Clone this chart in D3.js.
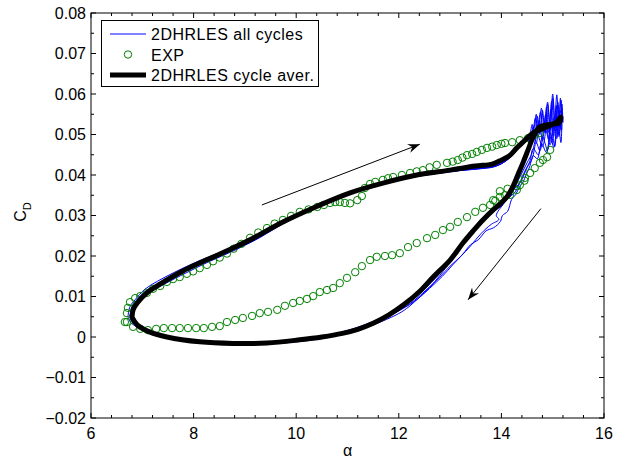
<!DOCTYPE html>
<html><head><meta charset="utf-8">
<script src="https://cdn.jsdelivr.net/npm/d3@7/dist/d3.min.js"></script>
<style>body{margin:0;background:#fff}svg{display:block}text{font-family:"Liberation Sans",Arial,sans-serif}</style>
</head><body>
<svg id="c" width="623" height="460"></svg>
<script>
const xTicks=[6,8,10,12,14,16];
const yTicks=[0.08,0.07,0.06,0.05,0.04,0.03,0.02,0.01,0,-0.01,-0.02];
const legendLabels=["2DHRLES all cycles","EXP","2DHRLES cycle aver."];
const cycleAver=[[6.80,0.0049],[6.82,0.0067],[6.90,0.0084],[7.09,0.0109],[7.29,0.0126],[7.48,0.0141],[7.79,0.0163],[8.12,0.0183],[8.46,0.0202],[8.77,0.0220],[9.10,0.0240],[9.74,0.0284],[10.41,0.0323],[11.05,0.0356],[11.69,0.0380],[12.35,0.0400],[13.0,0.0412],[13.49,0.0422],[13.82,0.0427],[13.97,0.0435],[14.17,0.0449],[14.30,0.0467],[14.42,0.0481],[14.62,0.0504],[14.89,0.0519],[15.08,0.0531],[15.16,0.0543],[15.12,0.0528],[15.0,0.0526],[14.75,0.0519],[14.62,0.0494],[14.52,0.0462],[14.42,0.0430],[14.32,0.0400],[14.23,0.0373],[14.11,0.0346],[13.97,0.0328],[13.84,0.0314],[13.64,0.0289],[13.45,0.0262],[13.25,0.0232],[13.0,0.0190],[12.67,0.0148],[12.41,0.0113],[12.1,0.0080],[11.8,0.0054],[11.5,0.0034],[11.2,0.0019],[10.9,0.0009],[10.5,0.0000],[10.07,-0.0007],[9.43,-0.0015],[8.77,-0.0016],[8.12,-0.0012],[7.48,0.0000],[7.15,0.0012],[6.90,0.0030],[6.80,0.0049]];
const cycle1=[[6.72,0.0050],[6.76,0.0075],[6.86,0.0092],[7.05,0.0118],[7.3,0.0138],[7.6,0.0158],[8.0,0.0182],[8.5,0.0208],[9.0,0.0236],[9.5,0.0265],[10.0,0.0298],[10.5,0.0327],[11.0,0.0353],[11.5,0.0374],[12.0,0.0390],[12.5,0.0402],[13.0,0.0410],[13.5,0.0417],[13.8,0.0420],[14.0,0.0428],[14.2,0.0446],[14.4,0.0478],[14.55,0.0500],[14.6,0.0525],[14.65,0.0490],[14.7,0.0545],[14.75,0.0500],[14.8,0.0560],[14.85,0.0505],[14.9,0.0575],[14.95,0.0510],[15.0,0.0590],[15.05,0.0515],[15.1,0.0580],[15.15,0.0520],[15.18,0.0565],[15.12,0.0495],[15.05,0.0545],[14.98,0.0480],[14.9,0.0530],[14.8,0.0470],[14.7,0.0500],[14.6,0.0455],[14.5,0.0430],[14.4,0.0405],[14.3,0.0380],[14.2,0.0355],[14.1,0.0340],[13.95,0.0320],[13.8,0.0305],[13.6,0.0282],[13.4,0.0252],[13.2,0.0218],[13.0,0.0185],[12.8,0.0152],[12.6,0.0122],[12.4,0.0098],[12.2,0.0075],[12.0,0.0058],[11.5,0.0030],[11.0,0.0010],[10.5,-0.0004],[10.0,-0.0012],[9.5,-0.0017],[9.0,-0.0018],[8.5,-0.0016],[8.0,-0.0010],[7.6,-0.0001],[7.2,0.0010],[6.95,0.0022],[6.78,0.0035],[6.72,0.0050]];
const cycle2=[[6.78,0.0048],[6.80,0.0070],[6.9,0.0088],[7.1,0.0112],[7.4,0.0134],[7.8,0.0160],[8.2,0.0185],[8.7,0.0212],[9.2,0.0240],[9.7,0.0280],[10.2,0.0310],[10.7,0.0336],[11.2,0.0360],[11.7,0.0378],[12.2,0.0393],[12.7,0.0403],[13.2,0.0411],[13.6,0.0416],[13.9,0.0422],[14.1,0.0436],[14.3,0.0462],[14.45,0.0488],[14.6,0.0505],[14.66,0.0540],[14.7,0.0495],[14.76,0.0555],[14.82,0.0500],[14.88,0.0568],[14.92,0.0505],[14.98,0.0582],[15.03,0.0512],[15.08,0.0598],[15.12,0.0520],[15.16,0.0585],[15.2,0.0530],[15.14,0.0560],[15.08,0.0490],[15.02,0.0540],[14.95,0.0475],[14.85,0.0515],[14.75,0.0460],[14.68,0.0480],[14.6,0.0440],[14.5,0.0418],[14.42,0.0395],[14.35,0.0378],[14.25,0.0355],[14.15,0.0345],[14.05,0.0330],[13.9,0.0300],[13.95,0.0290],[13.8,0.0278],[13.6,0.0255],[13.4,0.0225],[13.2,0.0198],[13.0,0.0175],[12.8,0.0148],[12.55,0.0118],[12.3,0.0090],[12.0,0.0065],[11.6,0.0040],[11.2,0.0020],[10.7,0.0004],[10.2,-0.0008],[9.6,-0.0014],[9.0,-0.0016],[8.4,-0.0014],[7.9,-0.0008],[7.4,0.0004],[7.1,0.0014],[6.9,0.0028],[6.78,0.0048]];
const cycle3=[[6.82,0.0050],[6.85,0.0068],[6.95,0.0086],[7.15,0.0110],[7.45,0.0132],[7.85,0.0158],[8.3,0.0186],[8.8,0.0214],[9.3,0.0246],[9.8,0.0284],[10.3,0.0316],[10.8,0.0342],[11.3,0.0364],[11.8,0.0381],[12.3,0.0395],[12.8,0.0405],[13.3,0.0413],[13.7,0.0419],[13.95,0.0428],[14.15,0.0445],[14.35,0.0472],[14.5,0.0495],[14.56,0.0470],[14.62,0.0520],[14.68,0.0478],[14.74,0.0535],[14.8,0.0485],[14.86,0.0548],[14.92,0.0490],[14.97,0.0562],[15.02,0.0495],[15.07,0.0572],[15.11,0.0500],[15.15,0.0590],[15.17,0.0510],[15.1,0.0545],[15.04,0.0470],[14.97,0.0520],[14.9,0.0462],[14.8,0.0495],[14.72,0.0450],[14.62,0.0465],[14.55,0.0432],[14.45,0.0408],[14.38,0.0385],[14.3,0.0372],[14.22,0.0360],[14.18,0.0348],[14.05,0.0338],[14.0,0.0322],[13.85,0.0318],[13.75,0.0300],[13.62,0.0292],[13.5,0.0270],[13.35,0.0248],[13.15,0.0215],[12.95,0.0182],[12.75,0.0150],[12.5,0.0118],[12.25,0.0090],[11.95,0.0065],[11.5,0.0038],[11.0,0.0016],[10.5,0.0001],[10.0,-0.0009],[9.4,-0.0015],[8.8,-0.0016],[8.2,-0.0013],[7.7,-0.0005],[7.3,0.0007],[7.0,0.0020],[6.86,0.0034],[6.82,0.0050]];
const cycle4=[[6.76,0.0049],[6.79,0.0072],[6.88,0.0090],[7.08,0.0115],[7.35,0.0135],[7.7,0.0158],[8.1,0.0183],[8.6,0.0210],[9.1,0.0240],[9.6,0.0274],[10.1,0.0305],[10.6,0.0332],[11.1,0.0357],[11.6,0.0376],[12.1,0.0391],[12.6,0.0402],[13.1,0.0410],[13.55,0.0415],[13.85,0.0420],[14.05,0.0432],[14.25,0.0455],[14.45,0.0485],[14.62,0.0510],[14.68,0.0550],[14.72,0.0505],[14.78,0.0565],[14.84,0.0510],[14.9,0.0580],[14.95,0.0520],[15.0,0.0600],[15.05,0.0525],[15.1,0.0570],[15.14,0.0515],[15.18,0.0575],[15.16,0.0480],[15.1,0.0535],[15.02,0.0468],[14.95,0.0505],[14.88,0.0455],[14.78,0.0478],[14.7,0.0440],[14.62,0.0448],[14.55,0.0420],[14.48,0.0400],[14.42,0.0382],[14.35,0.0370],[14.28,0.0352],[14.2,0.0340],[14.12,0.0310],[14.02,0.0300],[13.98,0.0285],[13.85,0.0270],[13.7,0.0262],[13.55,0.0240],[13.4,0.0228],[13.25,0.0205],[13.05,0.0178],[12.85,0.0150],[12.6,0.0120],[12.35,0.0092],[12.05,0.0068],[11.7,0.0046],[11.3,0.0025],[10.8,0.0007],[10.3,-0.0006],[9.7,-0.0014],[9.1,-0.0017],[8.5,-0.0015],[8.0,-0.0009],[7.5,0.0002],[7.15,0.0013],[6.92,0.0026],[6.8,0.0037],[6.76,0.0049]];
const expUp=[[6.66,0.0037],[6.70,0.0059],[6.72,0.0072],[6.76,0.0086],[6.86,0.0096],[6.96,0.0101],[7.09,0.0109],[7.21,0.0119],[7.35,0.0126],[7.48,0.0136],[7.60,0.0143],[7.73,0.0148],[7.87,0.0156],[7.99,0.0162],[8.12,0.0170],[8.26,0.0178],[8.38,0.0187],[8.51,0.0196],[8.65,0.0206],[8.78,0.0218],[8.93,0.0230],[9.10,0.0245],[9.26,0.0258],[9.43,0.0269],[9.58,0.0280],[9.74,0.0289],[9.90,0.0299],[10.07,0.0309],[10.24,0.0315],[10.41,0.0321],[10.54,0.0326],[10.66,0.0331],[10.76,0.0333],[10.85,0.0333],[10.95,0.0331],[11.05,0.0330],[11.19,0.0338],[11.28,0.0348],[11.34,0.0368],[11.44,0.0378],[11.54,0.0383],[11.69,0.0388],[11.79,0.0392],[11.89,0.0395],[12.06,0.0400],[12.22,0.0405],[12.35,0.0409],[12.47,0.0412],[12.60,0.0419],[12.74,0.0425],[12.94,0.0430],[13.05,0.0433],[13.15,0.0437],[13.24,0.0443],[13.33,0.0449],[13.43,0.0452],[13.52,0.0457],[13.62,0.0462],[13.72,0.0467],[13.82,0.0470],[13.91,0.0474],[14.00,0.0477],[14.07,0.0479],[14.21,0.0481],[14.36,0.0486],[14.52,0.0491],[14.65,0.0499],[14.75,0.0504]];
const expDown=[[14.95,0.0462],[14.89,0.0444],[14.81,0.0437],[14.75,0.0430],[14.65,0.0417],[14.56,0.0405],[14.46,0.0393],[14.36,0.0375],[14.30,0.0363],[14.17,0.0351],[14.07,0.0350],[13.97,0.0346],[13.88,0.0336],[13.78,0.0326],[13.64,0.0319],[13.49,0.0309],[13.33,0.0296],[13.15,0.0284],[13.0,0.0272],[12.86,0.0264],[12.71,0.0252],[12.55,0.0244],[12.35,0.0232],[12.18,0.0222],[12.02,0.0207],[11.87,0.0202],[11.73,0.0200],[11.57,0.0198],[11.44,0.0190],[11.28,0.0175],[11.15,0.0160],[10.99,0.0146],[10.85,0.0133],[10.72,0.0121],[10.60,0.0116],[10.46,0.0111],[10.33,0.0101],[10.21,0.0094],[10.07,0.0089],[9.94,0.0084],[9.78,0.0077],[9.63,0.0067],[9.45,0.0062],[9.29,0.0059],[9.14,0.0052],[8.96,0.0047],[8.81,0.0042],[8.65,0.0037],[8.51,0.0027],[8.36,0.0025],[8.20,0.0022],[8.05,0.0022],[7.89,0.0022],[7.73,0.0022],[7.58,0.0022],[7.42,0.0022],[7.27,0.0020],[7.11,0.0017],[6.96,0.0020],[6.82,0.0025],[6.70,0.0037]];
const expExtra=[[13.84,0.0338],[13.97,0.0360],[14.12,0.0366],[14.30,0.0372],[14.45,0.0386]];
const arrowUp=[[9.33,0.0326],[12.41,0.0476]];
const arrowDown=[[14.77,0.0317],[13.35,0.0092]];

const svg=d3.select("#c");
const L=91,R=604,T=13,B=418;
const x=d3.scaleLinear().domain([6,16]).range([L,R]);
const y=d3.scaleLinear().domain([-0.02,0.08]).range([B,T]);
const FS=16;

svg.append("defs").append("clipPath").attr("id","clip").append("rect").attr("x",L).attr("y",T).attr("width",R-L).attr("height",B-T);
svg.select("defs").append("marker").attr("id","ah").attr("viewBox","-12 -6 14 12").attr("refX",0).attr("refY",0)
  .attr("markerWidth",14).attr("markerHeight",12).attr("markerUnits","userSpaceOnUse").attr("orient","auto")
  .append("path").attr("d","M0,0 L-12,-4.5 L-8,0 L-12,4.5 Z").attr("fill","#000");

const g=svg.append("g").attr("clip-path","url(#clip)");
const line=d3.line().x(d=>x(d[0])).y(d=>y(d[1])).curve(d3.curveCatmullRom.alpha(0.5));
[cycle1,cycle2,cycle3,cycle4].forEach(c=>{
  g.append("path").attr("d",line(c)).attr("fill","none").attr("stroke","#0000ff").attr("stroke-width",1).attr("stroke-linejoin","round");
});
g.selectAll("circle.e").data(expUp.concat(expDown,expExtra)).join("circle").attr("class","e")
  .attr("cx",d=>x(d[0])).attr("cy",d=>y(d[1])).attr("r",3.7).attr("fill","none").attr("stroke","#008000").attr("stroke-width",1);
g.append("path").attr("d",line(cycleAver)).attr("fill","none").attr("stroke","#000").attr("stroke-width",5).attr("stroke-linejoin","round").attr("stroke-linecap","round");

[arrowUp,arrowDown].forEach(a=>{
  svg.append("line").attr("x1",x(a[0][0])).attr("y1",y(a[0][1])).attr("x2",x(a[1][0])).attr("y2",y(a[1][1]))
    .attr("stroke","#000").attr("stroke-width",1).attr("marker-end","url(#ah)");
});

svg.append("rect").attr("x",L).attr("y",T).attr("width",R-L).attr("height",B-T).attr("fill","none").attr("stroke","#000").attr("stroke-width",1);

const ax=svg.append("g").attr("stroke","#000").attr("stroke-width",1);
const xMinor=d3.range(6,16.001,0.4);
const yMinor=d3.range(-0.02,0.0801,0.005);
xMinor.forEach(v=>{const isMaj=xTicks.some(t=>Math.abs(t-v)<1e-6);const len=isMaj?5:3;
  ax.append("line").attr("x1",x(v)).attr("x2",x(v)).attr("y1",B).attr("y2",B-len);
  ax.append("line").attr("x1",x(v)).attr("x2",x(v)).attr("y1",T).attr("y2",T+len);});
yMinor.forEach(v=>{const isMaj=yTicks.some(t=>Math.abs(t-v)<1e-6);const len=isMaj?5:3;
  ax.append("line").attr("x1",L).attr("x2",L+len).attr("y1",y(v)).attr("y2",y(v));
  ax.append("line").attr("x1",R).attr("x2",R-len).attr("y1",y(v)).attr("y2",y(v));});

svg.selectAll("text.xt").data(xTicks).join("text").attr("class","xt").attr("x",d=>x(d)).attr("y",439)
  .attr("text-anchor","middle").attr("font-size",FS).text(d=>d);
const fmt=d=>d===0?"0":(d<0?"\u2212":"")+Math.abs(d).toFixed(2);
svg.selectAll("text.yt").data(yTicks).join("text").attr("class","yt").attr("x",86).attr("y",d=>y(d)+5.5)
  .attr("text-anchor","end").attr("font-size",FS).text(fmt);

svg.append("text").attr("x",(L+R)/2).attr("y",456).attr("text-anchor","middle").attr("font-size",FS).text("\u03b1");
const yl=svg.append("text").attr("transform","translate(26,212) rotate(-90)").attr("text-anchor","middle").attr("font-size",FS);
yl.append("tspan").text("C");
yl.append("tspan").attr("dy",5).attr("font-size",11).text("D");

const lg=svg.append("g");
lg.append("rect").attr("x",101.5).attr("y",20.5).attr("width",217).attr("height",66).attr("fill","#fff").attr("stroke","#000").attr("stroke-width",1);
const rows=[34,54.5,75];
lg.append("line").attr("x1",110).attr("x2",146).attr("y1",rows[0]).attr("y2",rows[0]).attr("stroke","#0000ff").attr("stroke-width",1);
lg.append("circle").attr("cx",128).attr("cy",rows[1]).attr("r",3.7).attr("fill","none").attr("stroke","#008000");
lg.append("line").attr("x1",110).attr("x2",146).attr("y1",rows[2]).attr("y2",rows[2]).attr("stroke","#000").attr("stroke-width",5);
lg.selectAll("text").data(legendLabels).join("text").attr("x",151).attr("y",(d,i)=>rows[i]+6).attr("font-size",FS)
  .attr("letter-spacing",0.5).text(d=>d);
</script>
</body></html>
